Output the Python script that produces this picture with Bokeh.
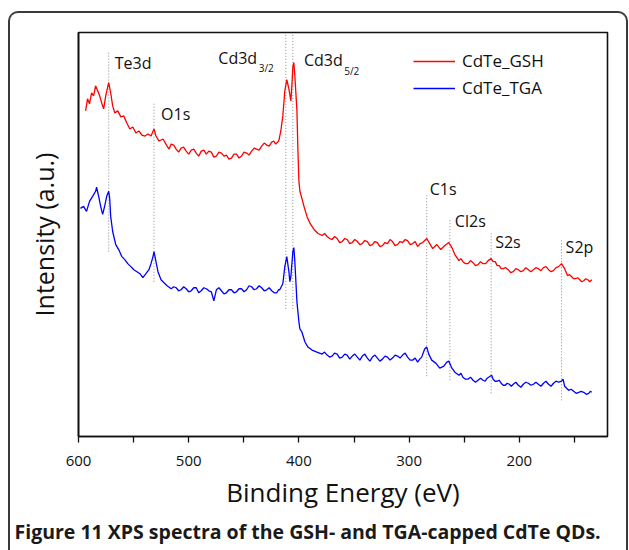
from bokeh.plotting import figure
from bokeh.models import FixedTicker, Range1d, Title, Legend, LegendItem
from bokeh.core.properties import value
from bokeh.embed import file_html
from bokeh.resources import INLINE

# ---- data (binding energy in eV, intensity in arbitrary units) ----
gsh_ev = [593.6, 591.8, 590.0, 588.1, 586.3, 584.5, 582.6, 580.8, 579.0, 577.2, 575.3, 573.5, 572.6,
          570.8, 569.0, 567.1, 564.4, 561.6, 558.9, 556.2, 553.4, 550.7, 547.9, 545.2, 542.5, 539.7,
          537.0, 534.2, 531.5, 529.7, 526.9, 523.3,
          519.6, 517.8, 515.9, 513.6, 511.4, 509.1, 506.9, 504.6, 502.3, 500.0, 497.7, 495.4, 493.2,
          490.9, 488.6, 486.3, 484.0, 481.7, 479.5, 477.2, 474.9, 472.6, 470.3, 468.0, 465.8, 463.5,
          461.2, 458.9, 456.6, 454.3, 452.1, 449.8, 447.5, 445.2, 442.9, 440.6, 438.4, 436.1, 433.8,
          431.5, 429.2, 427.0, 424.7, 422.8, 421.0,
          418.3, 416.4, 414.6, 412.8, 411.0, 409.1, 407.3, 406.4, 405.5, 404.6,
          403.7, 401.8, 400.9, 400.0, 399.1, 397.3, 395.4, 392.7, 389.9, 386.3, 382.6,
          379.0, 376.7, 374.4, 372.1, 369.9, 367.6, 365.3, 363.0, 360.7, 358.4, 356.2, 353.9, 351.6,
          349.3, 347.0, 344.7, 342.5, 340.2, 337.9, 335.6, 333.3, 331.0, 328.8, 326.5, 324.2, 321.9,
          319.6, 317.3, 315.1, 312.8, 310.5, 308.2, 305.9, 303.6, 301.4, 299.1, 296.8, 294.5, 292.3,
          290.0, 287.7, 284.0, 281.3, 278.6, 274.9, 271.3, 267.6, 264.0, 261.2, 258.5,
          254.8, 253.0, 251.2, 248.9, 246.6, 244.3, 242.0, 239.7, 237.5, 235.2, 232.9, 230.6, 228.3,
          225.6, 223.8, 221.9, 220.1, 218.3, 216.5, 214.6, 212.4, 210.1, 207.8, 205.5, 203.2, 200.9,
          198.6, 196.4, 194.1, 191.8, 189.5, 187.2, 185.0, 182.7, 180.4, 178.1, 175.8, 173.5, 171.2,
          169.0, 166.7, 164.4, 161.7, 158.9, 156.2, 154.4, 152.5, 150.7, 148.9, 147.0, 145.2, 143.4,
          141.6, 139.7, 137.9, 136.1, 134.3]
gsh_int = [324, 336, 331, 342, 339, 349, 344, 339, 332, 326, 339, 348, 352,
           342, 329, 322, 324, 318, 319, 312, 306, 308, 302, 304, 300, 299,
           301, 299, 306, 299, 294, 296,
           289, 286, 291, 290, 286, 283, 287, 288, 284, 281, 285, 286, 282,
           279, 284, 285, 281, 284, 283, 278, 279, 283, 282, 279, 280, 276,
           277, 281, 281, 277, 279, 283, 282, 280, 284, 287, 286, 285, 289,
           292, 290, 289, 293, 294, 291,
           294, 304, 319, 344, 355, 346, 334, 349, 368, 372,
           359, 324, 284, 254, 244, 237, 229, 219, 212, 206, 202,
           200, 202, 199, 197, 196, 199, 197, 193, 194, 197, 196, 192, 193,
           196, 194, 191, 192, 195, 194, 190, 191, 194, 193, 189, 190, 193,
           192, 196, 194, 190, 191, 194, 193, 196, 195, 191, 192, 194, 189,
           192, 193, 197, 192, 187, 191, 186, 190, 193, 188, 181,
           175, 177, 174, 172, 172, 175, 173, 170, 171, 174, 172, 172, 175,
           177, 174, 174, 170, 170, 167, 167, 168, 166, 163, 164, 167, 166,
           164, 165, 168, 166, 164, 166, 168, 167, 165, 168, 169, 166, 164,
           165, 168, 169, 172, 167, 160, 161, 159, 157, 157, 158, 156, 154,
           155, 157, 156, 154, 156]

tga_ev = [598.2, 595.4, 592.7, 590.0, 587.2, 584.5, 583.6, 581.7, 579.9, 578.1, 576.3, 574.4, 572.6,
          571.7, 570.8, 569.0, 566.2, 563.5, 560.7, 558.0, 555.3, 552.5, 549.8, 547.0, 544.3, 541.6,
          538.8, 536.1, 534.2, 532.4, 531.5, 529.7, 527.9, 525.1, 522.4, 519.6,
          515.9, 513.6, 511.4, 509.1, 506.9, 504.6, 502.3, 500.0, 497.7, 495.4, 493.2, 490.9, 488.6,
          486.3, 484.0, 481.7, 479.5, 477.2, 474.9, 472.6, 470.3, 468.0, 465.8, 463.5, 461.2, 458.9,
          456.6, 454.3, 452.1, 449.8, 447.5, 445.2, 442.9, 440.6, 438.4, 436.1, 433.8, 431.5, 429.2,
          427.0, 424.7, 422.4, 420.1, 418.5, 417.4,
          414.6, 412.8, 411.0, 409.1, 408.2, 407.3, 405.5, 404.6, 403.7, 401.8, 400.0, 399.1, 397.3,
          394.5, 391.8, 388.1, 383.6,
          379.0, 376.7, 374.4, 372.1, 369.9, 367.6, 365.3, 363.0, 360.7, 358.4, 356.2, 353.9, 351.6,
          349.3, 347.0, 344.7, 342.5, 340.2, 337.9, 335.6, 333.3, 331.0, 328.8, 326.5, 324.2, 321.9,
          319.6, 317.3, 315.1, 312.8, 310.5, 308.2, 305.9, 303.6, 301.4, 299.1, 296.8, 294.5, 292.3,
          290.4, 288.6, 285.9, 284.0, 282.2, 279.5, 275.8, 272.2, 268.5, 265.8, 264.0, 261.2, 258.5,
          254.8, 253.0, 251.2, 248.9, 246.6, 244.3, 242.0, 239.7, 237.5, 235.2, 232.9, 231.0, 229.2,
          226.5, 225.1, 223.8, 222.0, 220.1, 218.3, 216.5, 214.6, 212.8, 211.0, 209.1, 207.3, 205.5,
          203.2, 200.9, 198.6, 196.4, 194.1, 191.8, 189.5, 187.2, 185.0, 182.7, 180.4, 178.1, 175.8,
          173.5, 171.2, 169.0, 166.7, 164.4, 161.7, 160.3, 158.9, 157.1, 155.3, 153.0, 150.7, 148.4,
          146.1, 143.9, 141.6, 139.3, 137.0, 135.6, 134.3]
tga_int = [227, 229, 224, 234, 239, 244, 248, 239, 229, 221, 229, 239, 244,
           237, 219, 204, 191, 186, 179, 176, 172, 169, 166, 164, 162, 158,
           162, 166, 172, 179, 184, 174, 164, 156, 153, 150,
           147, 149, 148, 145, 146, 149, 147, 144, 145, 148, 148, 143, 145,
           148, 147, 145, 144, 135, 146, 148, 145, 142, 143, 146, 146, 143,
           144, 147, 147, 144, 146, 150, 149, 146, 147, 150, 148, 145, 146,
           148, 145, 143, 143, 146, 146,
           152, 169, 179, 164, 154, 159, 184, 188, 174, 134, 114, 107, 104,
           94, 89, 86, 84,
           82, 84, 81, 79, 80, 83, 82, 78, 79, 82, 81, 77, 80,
           82, 79, 76, 80, 82, 78, 75, 79, 81, 78, 75, 77, 80,
           79, 76, 78, 81, 80, 78, 81, 83, 79, 76, 76, 78, 74,
           77, 79, 87, 89, 82, 76, 73, 68, 70, 74, 75, 68, 64,
           61, 63, 59, 57, 57, 59, 56, 54, 56, 58, 56, 55, 58,
           60, 61, 57, 55, 55, 56, 53, 51, 51, 53, 52, 50, 52,
           54, 51, 49, 52, 54, 53, 51, 52, 54, 52, 50, 53, 55,
           52, 50, 53, 55, 54, 55, 57, 50, 48, 46, 47, 45, 43,
           44, 45, 44, 42, 43, 45, 44]

# peak markers: position (eV), dotted line span (a.u.)
peak_ev = [572.6, 531.5, 411.9, 405.5, 284.0, 263.0, 225.6, 161.7]
peak_lo = [184, 154, 127, 127, 60, 56, 43, 36]
peak_hi = [384, 332, 400, 400, 240, 216, 202, 196]

# peak labels
label_text = ["Te3d", "O1s", "Cd3d", "Cd3d", "C1s", "Cl2s", "S2s", "S2p"]
label_ev = [567.1, 525.1, 473.1, 395.4, 281.3, 258.5, 221.9, 158.0]
label_int = [372, 321, 377, 375, 246, 214, 194, 189]
sub_text = ["3/2", "5/2"]
sub_ev = [436.5, 358.9]
sub_int = [367, 364]

x_major = [600, 500, 400, 300, 200]
x_minor = [550, 450, 350, 250, 150]

FONT = "Open Sans"
INK = "#111111"

p = figure(width=616, height=537, output_backend="svg", toolbar_location=None,
           x_range=Range1d(600, 120), y_range=Range1d(0, 402),
           min_border_left=68, min_border_right=23, min_border_top=19, min_border_bottom=116)
p.styles = {"margin-left": "8px", "margin-top": "11px", "box-sizing": "content-box",
            "border-left": "2px solid #3a3a3a", "border-right": "2px solid #3a3a3a",
            "border-top": "2px solid #3a3a3a", "border-bottom": "none",
            "border-top-left-radius": "10px", "border-top-right-radius": "10px"}
p.background_fill_color = "white"
p.border_fill_color = None
p.grid.visible = False
p.outline_line_color = INK
p.outline_line_width = 1.6

# dotted peak lines
p.segment(x0=peak_ev, y0=peak_lo, x1=peak_ev, y1=peak_hi, line_color="#8a8a8a",
          line_width=1, line_dash="1 2")

r_gsh = p.line(gsh_ev, gsh_int, line_color="#ff0000", line_width=1.3)
r_tga = p.line(tga_ev, tga_int, line_color="#0000ff", line_width=1.3)

p.text(x=label_ev, y=label_int, text=label_text, text_font=value(FONT), text_font_size="16px",
       text_baseline="middle", text_align="left", text_color=INK)
p.text(x=sub_ev, y=sub_int, text=sub_text, text_font=value(FONT), text_font_size="10px",
       text_baseline="middle", text_align="left", text_color=INK)

# axes
xa = p.xaxis[0]
xa.ticker = FixedTicker(ticks=x_major, minor_ticks=x_minor)
xa.major_tick_in = 0
xa.major_tick_out = 6
xa.minor_tick_in = 0
xa.minor_tick_out = 6
xa.major_tick_line_color = INK
xa.minor_tick_line_color = INK
xa.major_tick_line_width = 1.3
xa.minor_tick_line_width = 1.3
xa.axis_line_color = INK
xa.axis_line_width = 1.6
xa.major_label_text_font = FONT
xa.major_label_text_font_size = "15px"
xa.major_label_text_color = INK
xa.major_label_standoff = 13
xa.axis_label = "Binding Energy (eV)"
xa.axis_label_text_font = FONT
xa.axis_label_text_font_size = "26px"
xa.axis_label_text_font_style = "normal"
xa.axis_label_text_color = INK
xa.axis_label_standoff = 5

ya = p.yaxis[0]
ya.major_tick_line_color = None
ya.minor_tick_line_color = None
ya.major_label_text_font_size = "0px"
ya.major_label_text_color = None
ya.axis_line_color = INK
ya.axis_line_width = 1.6
ya.axis_label = "Intensity (a.u.)"
ya.axis_label_text_font = FONT
ya.axis_label_text_font_size = "25px"
ya.axis_label_text_font_style = "normal"
ya.axis_label_text_color = INK
ya.axis_label_standoff = 12

legend = Legend(items=[LegendItem(label="CdTe_GSH", renderers=[r_gsh]),
                       LegendItem(label="CdTe_TGA", renderers=[r_tga])],
                location=(335, 337))
legend.glyph_width = 42
legend.glyph_height = 20
legend.label_standoff = 7
legend.spacing = 4
legend.padding = 0
legend.margin = 0
legend.border_line_alpha = 0
legend.background_fill_alpha = 0
legend.label_text_font = FONT
legend.label_text_font_size = "17px"
legend.label_text_color = INK
p.add_layout(legend)

caption = Title(text="Figure 11 XPS spectra of the GSH- and TGA-capped CdTe QDs.",
                align="left", offset=-64, text_font=FONT, text_font_size="19.5px",
                text_font_style="bold", text_color="#1a1a1a", standoff=6)
p.add_layout(caption, "below")

open("out.html", "w").write(file_html(p, INLINE))
